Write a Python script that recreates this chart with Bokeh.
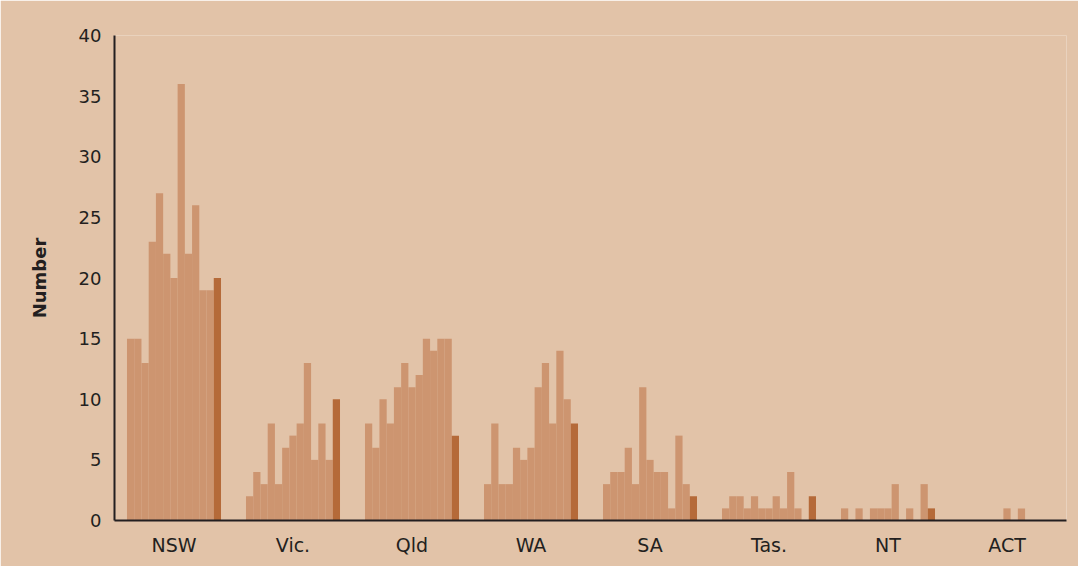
from bokeh.plotting import figure
from bokeh.models import Range1d, FixedTicker, ColumnDataSource
from bokeh.embed import file_html
from bokeh.resources import INLINE

states = ["NSW", "Vic.", "Qld", "WA", "SA", "Tas.", "NT", "ACT"]
n_years = 13
nsw = [15, 15, 13, 23, 27, 22, 20, 36, 22, 26, 19, 19, 20]
vic = [2, 4, 3, 8, 3, 6, 7, 8, 13, 5, 8, 5, 10]
qld = [8, 6, 10, 8, 11, 13, 11, 12, 15, 14, 15, 15, 7]
wa = [3, 8, 3, 3, 6, 5, 6, 11, 13, 8, 14, 10, 8]
sa = [3, 4, 4, 6, 3, 11, 5, 4, 4, 1, 7, 3, 2]
tas = [1, 2, 2, 1, 2, 1, 1, 2, 1, 4, 1, 0, 2]
nt = [1, 0, 1, 0, 1, 1, 1, 3, 0, 1, 0, 3, 1]
act = [0, 0, 0, 0, 0, 0, 1, 0, 1, 0, 0, 0, 0]
series = [nsw, vic, qld, wa, sa, tas, nt, act]

BG = "#E2C3A8"
BAR = "#CD9570"
BAR_LAST = "#B56A39"
AXIS = "#231F20"

group_span = 0.79
bw = group_span / n_years

xs, tops, colors = [], [], []
for gi, vals in enumerate(series):
    for j, v in enumerate(vals):
        xs.append(gi + 0.5 + (j - (n_years - 1) / 2) * bw)
        tops.append(v)
        colors.append(BAR_LAST if j == n_years - 1 else BAR)

src = ColumnDataSource(dict(x=xs, top=tops, color=colors))

p = figure(width=1078, height=566, output_backend="svg", toolbar_location=None,
           x_range=Range1d(0, len(states)), y_range=Range1d(0, 40),
           min_border_left=114, min_border_right=12, min_border_top=35, min_border_bottom=46)
p.background_fill_color = BG
p.border_fill_color = BG
p.outline_line_color = None
p.grid.visible = False

p.vbar(x="x", top="top", bottom=0, width=bw, color="color", line_color=None, source=src)

p.xaxis.ticker = FixedTicker(ticks=[i + 0.5 for i in range(len(states))])
p.xaxis.major_label_overrides = {i + 0.5: s for i, s in enumerate(states)}
p.yaxis.ticker = FixedTicker(ticks=list(range(0, 41, 5)))

for ax in (p.xaxis, p.yaxis):
    ax.axis_line_color = AXIS
    ax.axis_line_width = 2
    ax.major_tick_line_color = None
    ax.minor_tick_line_color = None
    ax.major_label_text_font = "DejaVu Sans"
    ax.major_label_text_font_size = "18px"
    ax.major_label_text_color = AXIS

p.xaxis.major_label_text_font_size = "19px"
p.xaxis.major_label_standoff = 7
p.yaxis.major_label_standoff = 7
p.yaxis.axis_label = "Number"
p.yaxis.axis_label_text_font = "DejaVu Sans"
p.yaxis.axis_label_text_font_style = "bold"
p.yaxis.axis_label_text_font_size = "18px"
p.yaxis.axis_label_text_color = AXIS
p.yaxis.axis_label_standoff = 26

open("out.html", "w").write(file_html(p, INLINE))
